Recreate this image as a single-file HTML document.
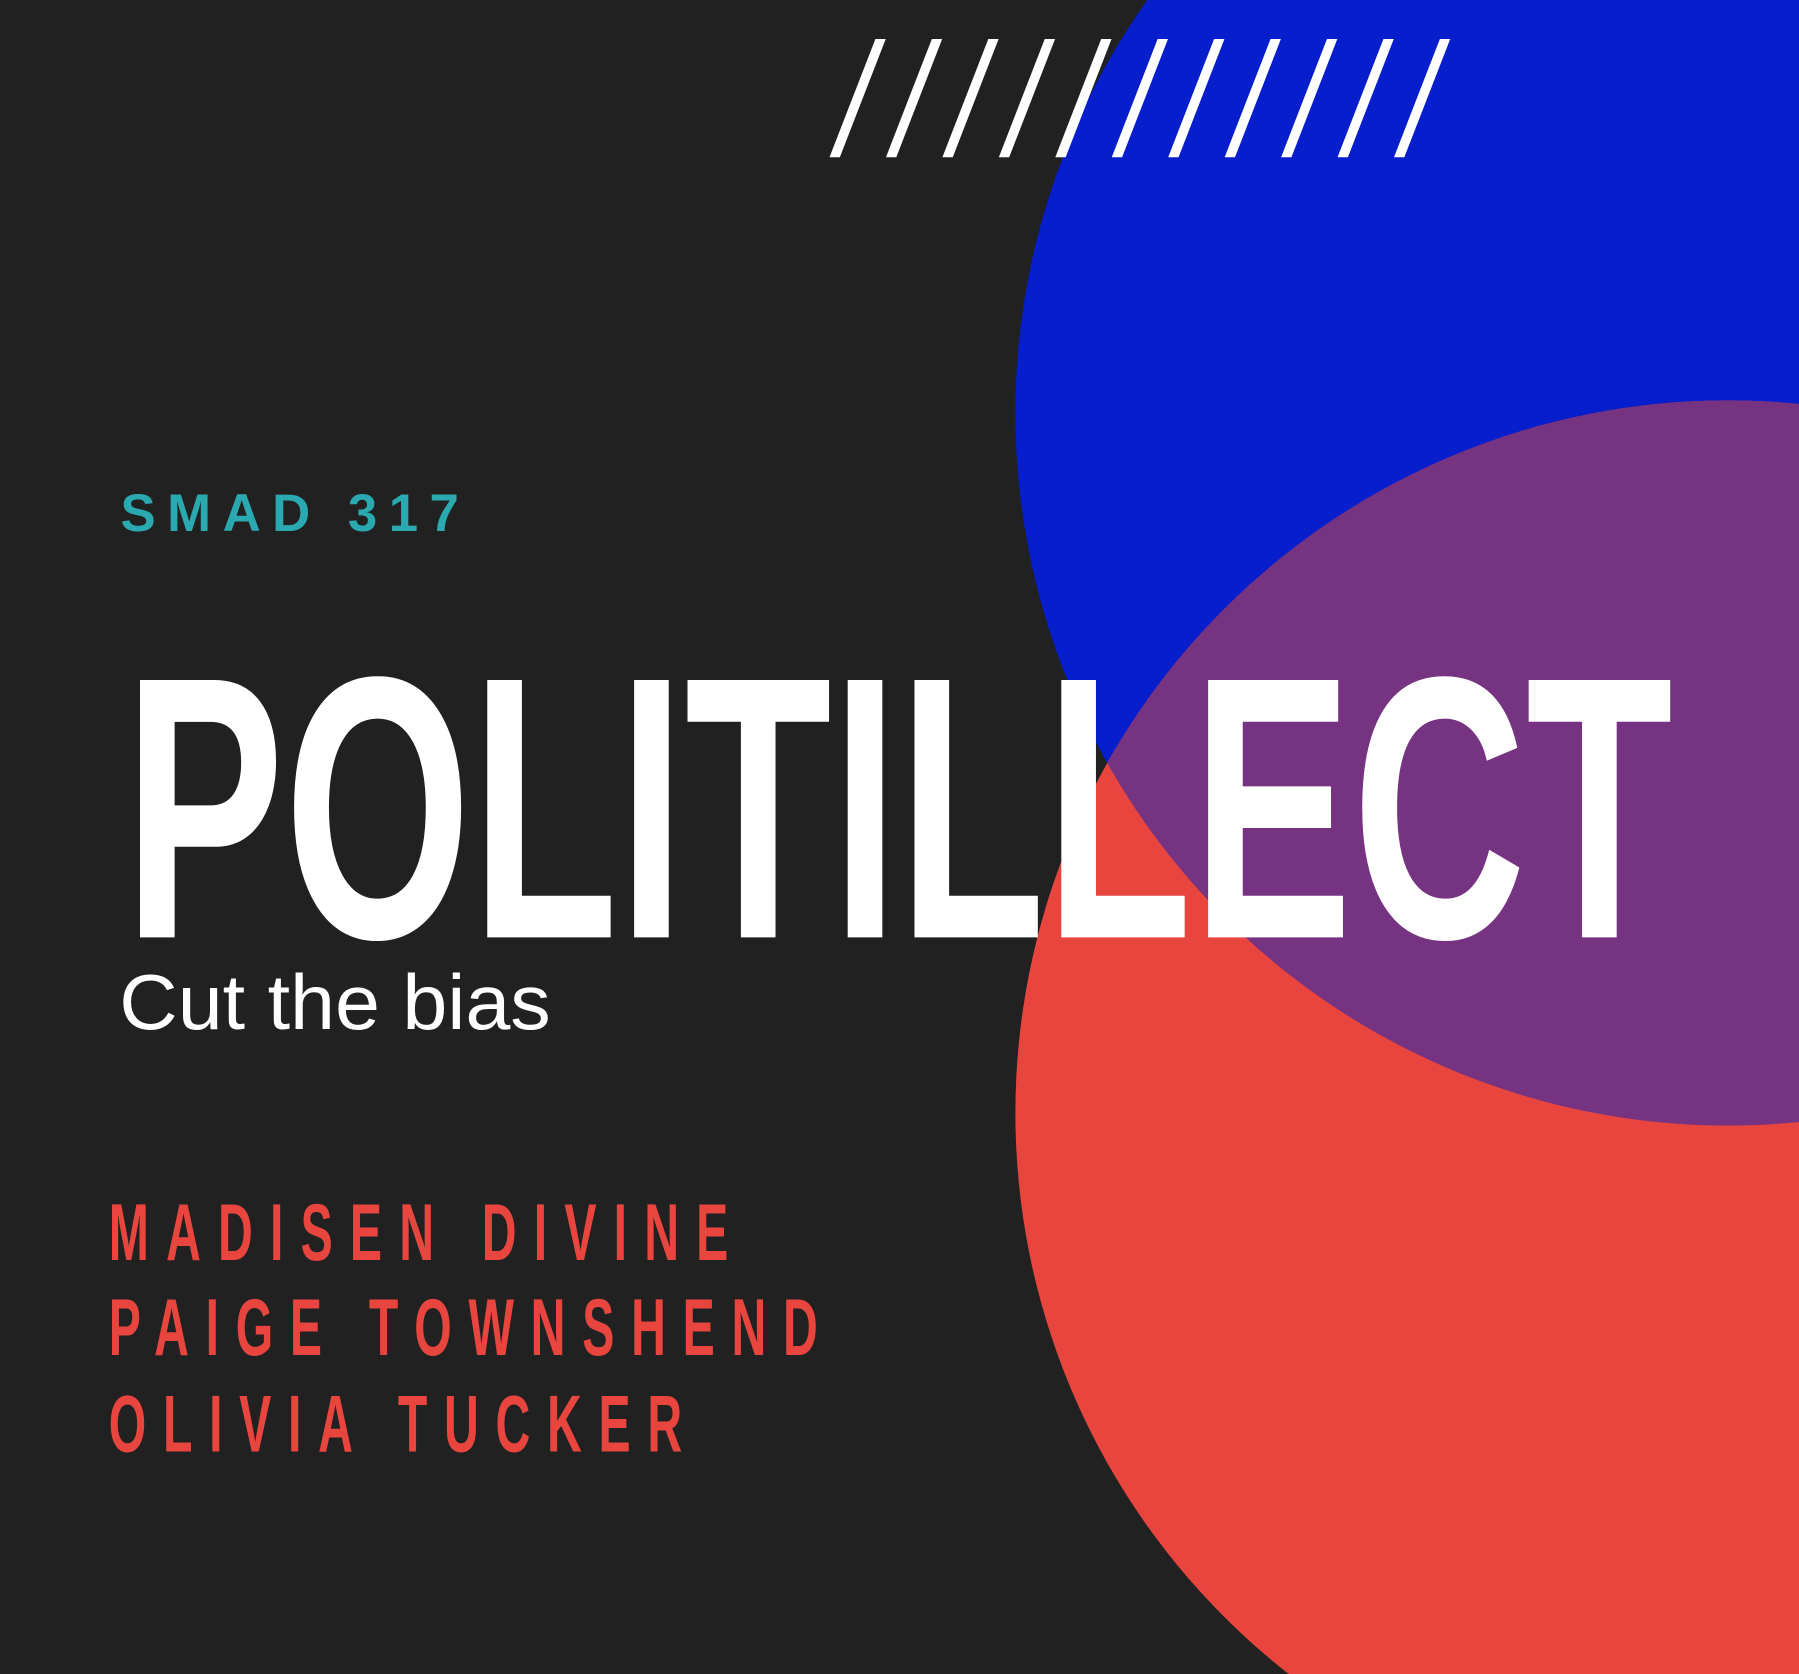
<!DOCTYPE html>
<html>
<head>
<meta charset="utf-8">
<meta name="viewport" content="width=1799,height=1674">
<style>
html,body{margin:0;padding:0;background:#212121;overflow:hidden;width:1799px;height:1674px;}
svg{display:block;position:absolute;left:0;top:0;overflow:hidden;}
</style>
</head>
<body>
<svg width="1799" height="1674" viewBox="0 0 1568 1459" preserveAspectRatio="none" xmlns="http://www.w3.org/2000/svg">
  <defs>
    <clipPath id="blueClip"><circle cx="1506" cy="360" r="621"/></clipPath>
  </defs>
  <rect x="0" y="0" width="1568" height="1459" fill="#212121"/>
  <circle cx="1506" cy="360" r="621" fill="#061ecb"/>
  <circle cx="1506" cy="970" r="621" fill="#e8453f"/>
  <circle cx="1506" cy="970" r="621" fill="#763382" clip-path="url(#blueClip)"/>
  <g id="slashes" fill="#ffffff"></g>

  <text x="105" y="463" font-family="Liberation Sans, sans-serif" font-weight="bold" font-size="46" fill="#2aa9b0" textLength="295" lengthAdjust="spacing">SMAD 317</text>

  <text x="108" y="817" font-family="Liberation Sans, sans-serif" font-weight="bold" font-size="326" fill="#ffffff" textLength="1350" lengthAdjust="spacingAndGlyphs">POLITILLECT</text>

  <text x="104" y="897" font-family="Liberation Sans, sans-serif" font-size="68" fill="#ffffff" textLength="376" lengthAdjust="spacingAndGlyphs">Cut the bias</text>

  <g font-family="Liberation Sans, sans-serif" font-weight="bold" font-size="70" fill="#e8453f" transform="scale(0.6,1)">
    <text x="158" y="1098" textLength="900" lengthAdjust="spacing">MADISEN DIVINE</text>
    <text x="158" y="1181" textLength="1030" lengthAdjust="spacing">PAIGE TOWNSHEND</text>
    <text x="158" y="1265" textLength="833" lengthAdjust="spacing">OLIVIA TUCKER</text>
  </g>
</svg>
<script>
var g = document.getElementById('slashes');
var NS = 'http://www.w3.org/2000/svg';
for (var i = 0; i < 11; i++) {
  var x = 723 + i * 49.2;
  var p = document.createElementNS(NS, 'polygon');
  p.setAttribute('points', x + ',137 ' + (x + 9) + ',137 ' + (x + 49) + ',34 ' + (x + 40) + ',34');
  
  
  g.appendChild(p);
}
</script>
</body>
</html>
